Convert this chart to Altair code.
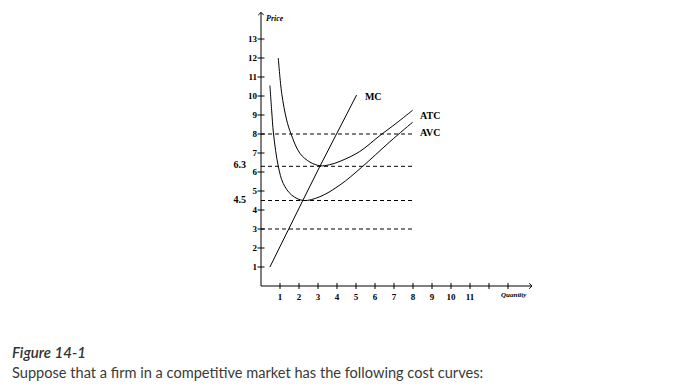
import altair as alt
import pandas as pd

# ---- data ----
tick_q = list(range(1, 14))
x_tick_labels = [str(i) for i in range(1, 12)]
tick_p = list(range(1, 14))
y_tick_labels = [str(i) for i in range(1, 14)]

mc_q = [0.47, 2.2, 3.1, 5.03]
mc_p = [1.0, 4.5, 6.3, 10.05]

atc_q = [0.91, 1.09, 1.35, 1.58, 2.05, 2.58, 3.1, 3.6, 4.2, 5.2, 6.26, 7.1, 7.98]
atc_p = [12.0, 10.14, 8.74, 8.0, 6.98, 6.52, 6.33, 6.38, 6.58, 7.08, 7.92, 8.55, 9.25]

avc_q = [0.47, 0.56, 0.66, 0.91, 1.17, 1.61, 2.23, 3.1, 4.16, 5.3, 6.79, 7.98]
avc_p = [10.55, 9.26, 8.0, 6.3, 5.4, 4.79, 4.5, 4.7, 5.32, 6.25, 7.6, 8.62]

dashed_levels = [8, 6.3, 4.5, 3]
dashed_end_q = 8
special_labels = ["6.3", "4.5"]
special_values = [6.3, 4.5]

curve_names = ["MC", "ATC", "AVC"]
curve_label_q = [5.47, 8.37, 8.37]
curve_label_p = [9.95, 8.95, 8.05]

caption_title = "Figure 14-1"
caption_text = "Suppose that a firm in a competitive market has the following cost curves:"

# ---- geometry ----
PX = 19.0
W = 276
H = 275
X_MAX = W / PX
Y_MAX = H / PX
X_AXIS_END = 14.26
Y_AXIS_END = 14.4

xs = alt.Scale(domain=[0, X_MAX], nice=False, zero=False)
ys = alt.Scale(domain=[0, Y_MAX], nice=False, zero=False)

def X(field):
    return alt.X(field, type="quantitative", scale=xs, axis=None)

def Y(field):
    return alt.Y(field, type="quantitative", scale=ys, axis=None)

SERIF = "Liberation Serif"

curves = pd.concat([
    pd.DataFrame({"q": mc_q, "p": mc_p, "c": "MC"}),
    pd.DataFrame({"q": atc_q, "p": atc_p, "c": "ATC"}),
    pd.DataFrame({"q": avc_q, "p": avc_p, "c": "AVC"}),
])

mc_line = alt.Chart(curves[curves.c == "MC"]).mark_line(color="black", strokeWidth=1).encode(x=X("q"), y=Y("p"))
atc_line = alt.Chart(curves[curves.c == "ATC"]).mark_line(color="black", strokeWidth=1, interpolate="catmull-rom").encode(x=X("q"), y=Y("p"))
avc_line = alt.Chart(curves[curves.c == "AVC"]).mark_line(color="black", strokeWidth=1, interpolate="catmull-rom").encode(x=X("q"), y=Y("p"))

dash_df = pd.DataFrame({"p": dashed_levels, "q0": 0, "q1": dashed_end_q})
dashes = alt.Chart(dash_df).mark_rule(color="black", strokeWidth=1, strokeDash=[4, 3]).encode(
    x=X("q0"), x2="q1", y=Y("p"))

axes_df = pd.DataFrame({"q0": [0, 0], "q1": [X_AXIS_END, 0], "p0": [0, 0], "p1": [0, Y_AXIS_END]})
axis_lines = alt.Chart(axes_df).mark_rule(color="black", strokeWidth=1).encode(
    x=X("q0"), x2="q1", y=Y("p0"), y2="p1")

arrow_x = alt.Chart(pd.DataFrame({"q": [X_AXIS_END], "p": [0]})).mark_point(
    shape="M-1,-1L0,0L-1,1", size=30, filled=False, color="black", strokeWidth=1, opacity=1
).encode(x=X("q"), y=Y("p"))
arrow_y = alt.Chart(pd.DataFrame({"q": [0], "p": [Y_AXIS_END]})).mark_point(
    shape="M-1,1L0,0L1,1", size=30, filled=False, color="black", strokeWidth=1, opacity=1
).encode(x=X("q"), y=Y("p"))

xt = alt.Chart(pd.DataFrame({"q": tick_q, "p": 0})).mark_tick(
    orient="vertical", size=6, thickness=1, color="black", opacity=1).encode(x=X("q"), y=Y("p"))
yt = alt.Chart(pd.DataFrame({"p": tick_p, "q": 0})).mark_tick(
    orient="horizontal", size=7, thickness=1, color="black", opacity=1).encode(x=X("q"), y=Y("p"))

xl = alt.Chart(pd.DataFrame({"q": tick_q[:len(x_tick_labels)], "p": 0, "t": x_tick_labels})).mark_text(
    font=SERIF, fontWeight="bold", fontSize=9, dy=11, baseline="middle", align="center", color="black"
).encode(x=X("q"), y=Y("p"), text="t:N")
yl = alt.Chart(pd.DataFrame({"p": tick_p, "q": 0, "t": y_tick_labels})).mark_text(
    font=SERIF, fontWeight="bold", fontSize=9, dx=-4, baseline="middle", align="right", color="black"
).encode(x=X("q"), y=Y("p"), text="t:N")

sl = alt.Chart(pd.DataFrame({"p": special_values, "q": 0, "t": special_labels})).mark_text(
    font=SERIF, fontWeight="bold", fontSize=10, dx=-15, dy=-1, baseline="middle", align="right", color="black"
).encode(x=X("q"), y=Y("p"), text="t:N")

cl = alt.Chart(pd.DataFrame({"q": curve_label_q, "p": curve_label_p, "t": curve_names})).mark_text(
    font=SERIF, fontWeight="bold", fontSize=10, baseline="middle", align="left", color="black"
).encode(x=X("q"), y=Y("p"), text="t:N")

price_lbl = alt.Chart(pd.DataFrame({"q": [0], "p": [Y_AXIS_END], "t": ["Price"]})).mark_text(
    font=SERIF, fontWeight="bold", fontStyle="italic", fontSize=8, dx=5, dy=7, baseline="middle", align="left", color="black"
).encode(x=X("q"), y=Y("p"), text="t:N")
qty_lbl = alt.Chart(pd.DataFrame({"q": [13.3], "p": [0], "t": ["Quantity"]})).mark_text(
    font=SERIF, fontWeight="bold", fontStyle="italic", fontSize=7, dy=9, baseline="middle", align="center", color="black"
).encode(x=X("q"), y=Y("p"), text="t:N")

cap_df = pd.DataFrame({"a": [0]})
cap1 = alt.Chart(cap_df).mark_text(
    font="Lato", fontStyle="italic", fontWeight=600, fontSize=15, align="left", baseline="alphabetic", color="#333333"
).encode(x=alt.value(-249), y=alt.value(347), text=alt.value(caption_title))
cap2 = alt.Chart(cap_df).mark_text(
    font="Lato", fontSize=14.6, align="left", baseline="alphabetic", color="#3a3a3a"
).encode(x=alt.value(-249), y=alt.value(367), text=alt.value(caption_text))

chart = alt.layer(
    dashes, axis_lines, arrow_x, arrow_y, xt, yt, xl, yl, sl,
    mc_line, atc_line, avc_line, cl, price_lbl, qty_lbl, cap1, cap2
).properties(
    width=W, height=H,
    autosize=alt.AutoSizeParams(type="none"),
    padding={"left": 253, "top": 3, "right": 129, "bottom": 95},
    background="white",
).configure_view(stroke=None)

chart.save("out.html", embed_options={"renderer": "svg", "actions": False})
